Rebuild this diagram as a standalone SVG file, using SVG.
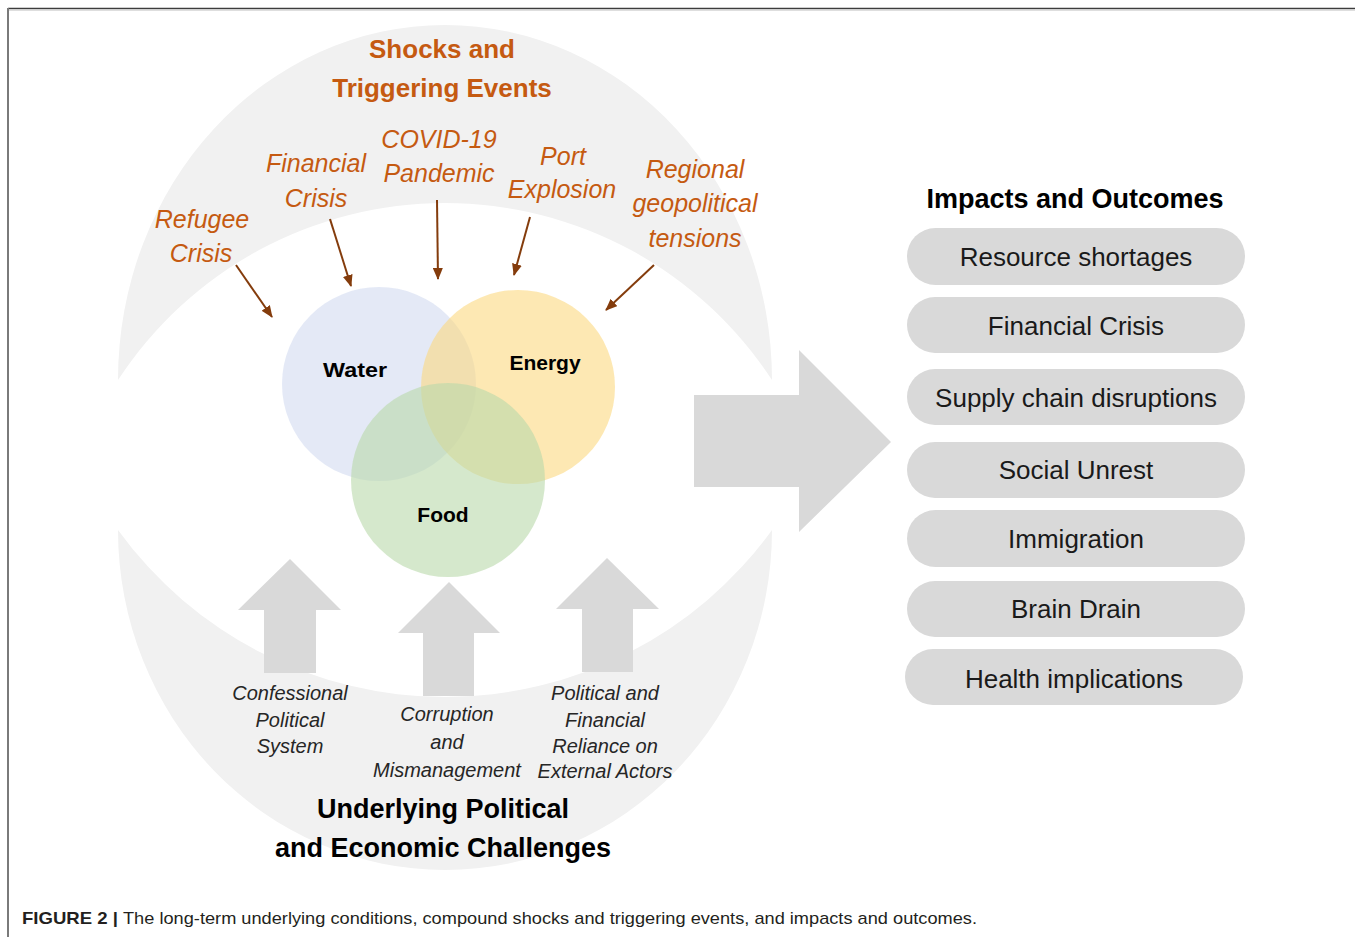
<svg xmlns="http://www.w3.org/2000/svg" width="1355" height="937" viewBox="0 0 1355 937">
  <style>
    text { font-family: "Liberation Sans", Arial, sans-serif; }
    .shock { font-size: 25px; font-style: italic; fill: #c55a11; text-anchor: middle; }
    .title-o { font-size: 26px; font-weight: bold; fill: #c55a11; text-anchor: middle; }
    .under { font-size: 20px; font-style: italic; fill: #262626; text-anchor: middle; }
    .title-k { font-size: 27px; font-weight: bold; fill: #000; text-anchor: middle; }
    .nexus { font-size: 21px; font-weight: bold; fill: #000; text-anchor: middle; }
    .pill { fill: #d9d9d9; }
    .pilltxt { font-size: 26px; fill: #1a1a1a; text-anchor: middle; }
    .crescent { fill: #f1f1f1; }
    .bigarrow { fill: #d9d9d9; }
    .trig { stroke: #843c0c; stroke-width: 2; fill: none; marker-end: url(#ah); }
  </style>
  <defs>
    <marker id="ah" markerUnits="userSpaceOnUse" markerWidth="12" markerHeight="10" refX="11" refY="5" orient="auto">
      <path d="M0,0 L12,5 L0,10 z" fill="#843c0c"/>
    </marker>
  </defs>

  <rect width="1355" height="937" fill="#fff"/>
  <!-- frame -->
  <line x1="8" y1="8.5" x2="1355" y2="8.5" stroke="#3c3c3c" stroke-width="1.6"/>
  <line x1="9" y1="10.2" x2="1355" y2="10.2" stroke="#d0d0d0" stroke-width="1"/>
  <line x1="8" y1="8" x2="8" y2="937" stroke="#7a7a7a" stroke-width="2"/>

  <!-- background crescents -->
  <g id="crescent-top">
    <path class="crescent" d="M118,380 A327,355 0 0 1 772,380 A390.6,390.6 0 0 0 118,380 Z"/>
  </g>
  <g id="crescent-bottom">
    <path class="crescent" d="M118,530 A327,340 0 0 0 772,530 A403.6,403.6 0 0 1 118,530 Z"/>
  </g>

  <!-- titles -->
  <g id="title-shocks">
    <text class="title-o" x="442" y="58">Shocks and</text>
    <text class="title-o" x="442" y="97">Triggering Events</text>
  </g>

  <!-- shock labels -->
  <g id="shock-refugee">
    <text class="shock" x="202" y="228">Refugee</text>
    <text class="shock" x="201" y="262">Crisis</text>
  </g>
  <g id="shock-financial">
    <text class="shock" x="316" y="172">Financial</text>
    <text class="shock" x="316" y="207">Crisis</text>
  </g>
  <g id="shock-covid">
    <text class="shock" x="439" y="148">COVID-19</text>
    <text class="shock" x="439" y="182">Pandemic</text>
  </g>
  <g id="shock-port">
    <text class="shock" x="563" y="165">Port</text>
    <text class="shock" x="562" y="198">Explosion</text>
  </g>
  <g id="shock-regional">
    <text class="shock" x="695" y="178">Regional</text>
    <text class="shock" x="695" y="212">geopolitical</text>
    <text class="shock" x="695" y="247">tensions</text>
  </g>

  <!-- nexus circles -->
  <g id="nexus">
    <g id="water">
      <circle cx="379" cy="384" r="97" fill="#d2daf0" fill-opacity="0.6"/>
    </g>
    <g id="energy">
      <circle cx="518" cy="387" r="97" fill="#fcd880" fill-opacity="0.6"/>
    </g>
    <g id="food">
      <circle cx="448" cy="480" r="97" fill="#b9d9aa" fill-opacity="0.6"/>
    </g>
    <text class="nexus" x="355" y="377" textLength="64" lengthAdjust="spacingAndGlyphs">Water</text>
    <text class="nexus" x="545" y="370">Energy</text>
    <text class="nexus" x="443" y="522">Food</text>
  </g>

  <!-- connectors -->
  <g id="connectors">
    <line class="trig" x1="236" y1="265" x2="272" y2="317"/>
    <line class="trig" x1="330" y1="219" x2="351" y2="286"/>
    <line class="trig" x1="437" y1="200" x2="438" y2="279"/>
    <line class="trig" x1="530" y1="217" x2="514" y2="275"/>
    <line class="trig" x1="654" y1="265" x2="606" y2="310"/>
  </g>

  <!-- underlying up arrows -->
  <g id="arrow-confessional">
    <polygon class="bigarrow" points="290,559 341,610 316,610 316,673 264,673 264,610 238,610"/>
    <text class="under" x="290" y="700">Confessional</text>
    <text class="under" x="290" y="727">Political</text>
    <text class="under" x="290" y="753">System</text>
  </g>
  <g id="arrow-corruption">
    <polygon class="bigarrow" points="449,582 500,633 474,633 474,696 423,696 423,633 398,633"/>
    <text class="under" x="447" y="721">Corruption</text>
    <text class="under" x="447" y="749">and</text>
    <text class="under" x="447" y="777">Mismanagement</text>
  </g>
  <g id="arrow-reliance">
    <polygon class="bigarrow" points="607,558 659,609 633,609 633,672 582,672 582,609 556,609"/>
    <text class="under" x="605" y="700">Political and</text>
    <text class="under" x="605" y="727">Financial</text>
    <text class="under" x="605" y="753">Reliance on</text>
    <text class="under" x="605" y="778">External Actors</text>
  </g>

  <g id="title-underlying">
    <text class="title-k" x="443" y="818">Underlying Political</text>
    <text class="title-k" x="443" y="857">and Economic Challenges</text>
  </g>

  <!-- big right arrow -->
  <g id="arrow-impacts">
    <polygon class="bigarrow" points="694,395 799,395 799,350 891,442 799,532 799,487 694,487"/>
  </g>

  <!-- impacts -->
  <g id="impacts-title">
    <text class="title-k" x="1075" y="208">Impacts and Outcomes</text>
  </g>
  <g id="impact-1">
    <rect class="pill" x="907" y="228" width="338" height="57" rx="28.5"/>
    <text class="pilltxt" x="1076" y="266">Resource shortages</text>
  </g>
  <g id="impact-2">
    <rect class="pill" x="907" y="297" width="338" height="56" rx="28"/>
    <text class="pilltxt" x="1076" y="335">Financial Crisis</text>
  </g>
  <g id="impact-3">
    <rect class="pill" x="907" y="369" width="338" height="56" rx="28"/>
    <text class="pilltxt" x="1076" y="407">Supply chain disruptions</text>
  </g>
  <g id="impact-4">
    <rect class="pill" x="907" y="442" width="338" height="56" rx="28"/>
    <text class="pilltxt" x="1076" y="479">Social Unrest</text>
  </g>
  <g id="impact-5">
    <rect class="pill" x="907" y="510" width="338" height="57" rx="28.5"/>
    <text class="pilltxt" x="1076" y="548">Immigration</text>
  </g>
  <g id="impact-6">
    <rect class="pill" x="907" y="581" width="338" height="56" rx="28"/>
    <text class="pilltxt" x="1076" y="618">Brain Drain</text>
  </g>
  <g id="impact-7">
    <rect class="pill" x="905" y="649" width="338" height="56" rx="28"/>
    <text class="pilltxt" x="1074" y="688">Health implications</text>
  </g>

  <!-- caption -->
  <g id="caption">
    <text x="22" y="924" font-size="17" font-weight="bold" fill="#231f20" textLength="96" lengthAdjust="spacingAndGlyphs">FIGURE 2 |</text>
    <text x="123" y="924" font-size="17" fill="#231f20" textLength="854" lengthAdjust="spacingAndGlyphs">The long-term underlying conditions, compound shocks and triggering events, and impacts and outcomes.</text>
  </g>
</svg>
